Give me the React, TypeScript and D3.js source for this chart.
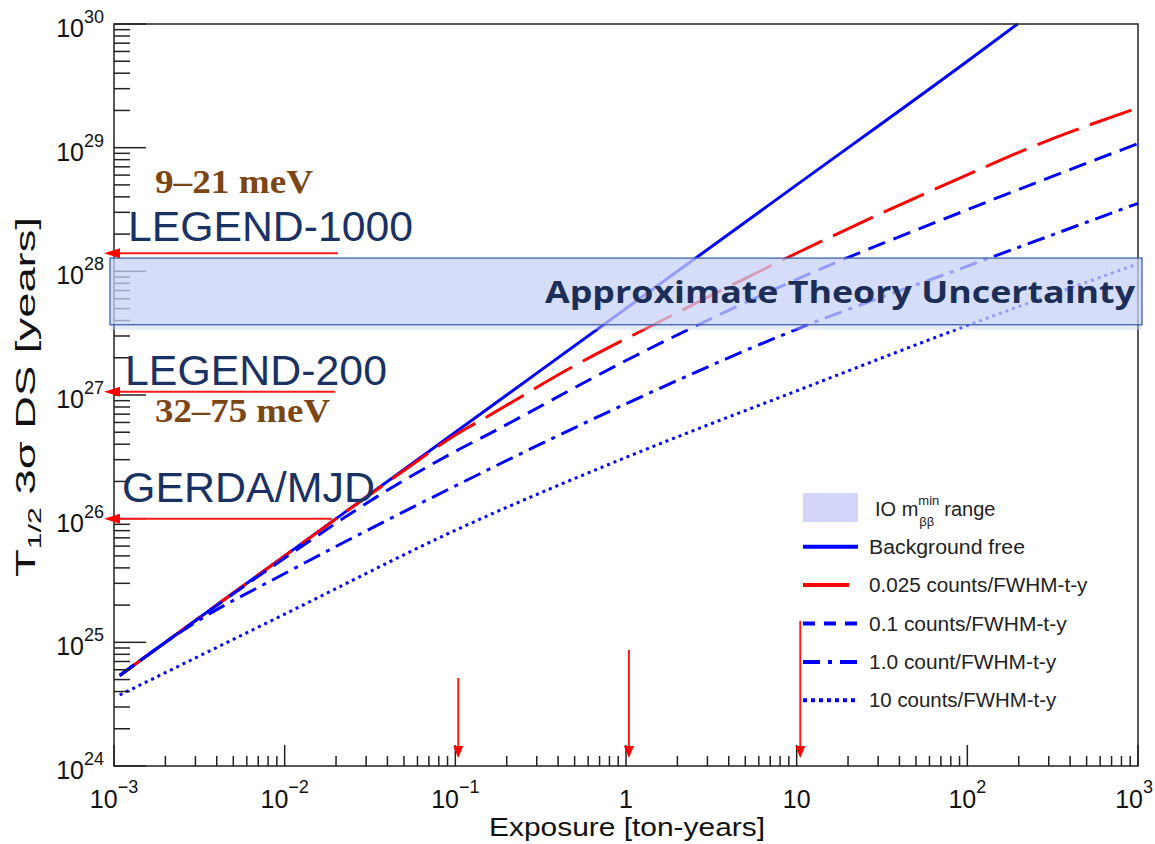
import React from "react";
import * as d3 from "d3";

// Exposure in ton-years, 3σ discovery half-life in years
const exposureBgFree = [0.00108, 0.01, 0.1, 1, 10, 100, 197];
const halfLifeBgFree = [5.4e24, 5.0e25, 5.0e26, 5.0e27, 5.0e28, 5.0e29, 1.0e30];

const exposureB0025 = [0.00108, 0.01, 0.05, 0.1, 0.16, 0.49, 1.45, 10.4, 99, 267, 1000];
const halfLifeB0025 = [5.4e24, 5.0e25, 2.45e26, 4.75e26, 6.9e26, 1.7e27, 3.7e27, 1.44e28, 6.0e28, 1.08e29, 2.1e29];

const exposureB01 = [0.00108, 0.01, 0.0346, 0.1, 0.16, 1, 10, 100, 1000];
const halfLifeB01 = [5.4e24, 4.8e25, 1.5e26, 3.5e26, 4.9e26, 1.9e27, 8.6e27, 3.15e28, 1.08e29];

const exposureB1 = [0.00108, 0.003, 0.01, 0.1, 1, 10, 100, 1000];
const halfLifeB1 = [5.4e24, 1.45e25, 3.6e25, 1.84e26, 8.5e26, 3.4e27, 1.1e28, 3.55e28];

const exposureB10 = [0.00108, 0.01, 0.1, 1, 10, 100, 1000];
const halfLifeB10 = [3.75e24, 1.69e25, 8.05e25, 3.13e26, 1.08e27, 3.65e27, 1.15e28];

// IO minimum m_bb range band
const theoryBand = [3.7e27, 1.28e28];

// Experiment sensitivity markers
const experimentNames = ["LEGEND-1000", "LEGEND-200", "GERDA/MJD"];
const experimentHalfLife = [1.4e28, 1.06e27, 1.0e26];
const experimentArrowFrom = [0.0205, 0.0197, 0.0189];
const massRanges = ["9–21 meV", "32–75 meV"];

// Exposure markers on the x axis
const exposureMarkers = [0.104, 1.04, 10.5];
const exposureMarkerTop = [5.15e24, 8.7e24, 1.49e25];

const xTickExponents = [-3, -2, -1, 0, 1, 2, 3];
const yTickExponents = [24, 25, 26, 27, 28, 29, 30];

const legendLabels = [
  "Background free",
  "0.025 counts/FWHM-t-y",
  "0.1 counts/FWHM-t-y",
  "1.0 count/FWHM-t-y",
  "10 counts/FWHM-t-y",
];

const SANS = "'Liberation Sans', Arial, Helvetica, sans-serif";

export default function App() {
  const x = d3.scaleLog().domain([1e-3, 1e3]).range([114, 1138]);
  const y = d3.scaleLog().domain([1e24, 1e30]).range([766, 24]);

  const line = (xs: number[], ys: number[]) =>
    d3
      .line<number>()
      .x((_, i) => x(xs[i]))
      .y((_, i) => y(ys[i]))
      .curve(d3.curveMonotoneX)(ys) as string;

  const series = [
    { d: line(exposureBgFree, halfLifeBgFree), color: "#0000ff", dash: "none", w: 3 },
    { d: line(exposureB0025, halfLifeB0025), color: "#ff0000", dash: "44 12", w: 3 },
    { d: line(exposureB01, halfLifeB01), color: "#0000ff", dash: "18 9", w: 3 },
    { d: line(exposureB1, halfLifeB1), color: "#0000ff", dash: "18 7 4 7", w: 3 },
    { d: line(exposureB10, halfLifeB10), color: "#0000ff", dash: "3 4", w: 3 },
  ];

  const legendStyles = [
    { color: "#0000ff", dash: "none", len: 55 },
    { color: "#ff0000", dash: "none", len: 46 },
    { color: "#0000ff", dash: "12 9", len: 55 },
    { color: "#0000ff", dash: "17 8 4 8", len: 55 },
    { color: "#0000ff", dash: "4 4", len: 55 },
  ];

  // minor ticks
  const xMinor: number[] = [];
  const yMinor: number[] = [];
  for (let e = -3; e < 3; e++) for (let m = 2; m <= 9; m++) xMinor.push(m * Math.pow(10, e));
  for (let e = 24; e < 30; e++) for (let m = 2; m <= 9; m++) yMinor.push(m * Math.pow(10, e));

  const [x0, x1] = x.range();
  const [yb, yt] = y.range();

  const bandTop = y(theoryBand[1]);
  const bandBot = y(theoryBand[0]);

  return (
    <svg
      width={1155}
      height={844}
      style={{ position: "absolute", left: 0, top: 0, background: "#fff" }}
      fontFamily={SANS}
    >
      {/* curves */}
      <g fill="none">
        {series.map((s, i) => (
          <path key={i} d={s.d} stroke={s.color} strokeWidth={s.w} strokeDasharray={s.dash} />
        ))}
      </g>

      {/* axes ticks */}
      <g stroke="#222" strokeWidth={1.5}>
        {xTickExponents.map((e) => (
          <line key={"xM" + e} x1={x(Math.pow(10, e))} x2={x(Math.pow(10, e))} y1={yb} y2={yb - 21} />
        ))}
        {xMinor.map((v, i) => (
          <line key={"xm" + i} x1={x(v)} x2={x(v)} y1={yb} y2={yb - 10} />
        ))}
        {yTickExponents.map((e) => (
          <line key={"yM" + e} x1={x0} x2={x0 + 32} y1={y(Math.pow(10, e))} y2={y(Math.pow(10, e))} />
        ))}
        {yMinor.map((v, i) => (
          <line key={"ym" + i} x1={x0} x2={x0 + 16} y1={y(v)} y2={y(v)} />
        ))}
        <rect x={x0} y={yt} width={x1 - x0} height={yb - yt} fill="none" />
      </g>

      {/* tick labels */}
      <g fill="#111" fontSize={25}>
        {yTickExponents.map((e) => (
          <text key={"yl" + e} x={104} y={y(Math.pow(10, e)) + 13} textAnchor="end">
            10<tspan dy={-14} fontSize={18}>{e}</tspan>
          </text>
        ))}
        {xTickExponents.map((e) => (
          <text
            key={"xl" + e}
            x={e === 3 ? 1153 : x(Math.pow(10, e))}
            y={808}
            textAnchor={e === 3 ? "end" : "middle"}
          >
            {e === 0 ? "1" : "10"}
            {e !== 0 && e !== 1 ? (
              <tspan dy={-15} fontSize={18}>
                {e < 0 ? "\u2212" + Math.abs(e) : String(e)}
              </tspan>
            ) : null}
          </text>
        ))}
      </g>

      {/* axis titles */}
      <text x={627} y={836} textAnchor="middle" fontSize={25} fill="#111" textLength={276} lengthAdjust="spacingAndGlyphs">
        Exposure [ton-years]
      </text>
      <text
        transform="translate(35,397) rotate(-90)"
        textAnchor="middle"
        fontSize={27}
        fill="#111"
        textLength={360}
        lengthAdjust="spacingAndGlyphs"
      >
        T<tspan dy={6} fontSize={18}>1/2</tspan>
        <tspan dy={-6}> 3σ DS [years]</tspan>
      </text>

      {/* theory uncertainty band */}
      <rect x={x0 - 4} y={bandBot} width={x1 - x0 + 8} height={5} fill="#c8d2f5" opacity={0.45} />
      <rect
        x={x0 - 4}
        y={bandTop}
        width={x1 - x0 + 8}
        height={bandBot - bandTop}
        fill="#c8d2f5"
        fillOpacity={0.75}
        stroke="#3d63b0"
        strokeWidth={1.3}
      />
      <text
        x={545}
        y={303}
        fontFamily="'Open Sans', Lato, sans-serif"
        fontWeight={700}
        fontSize={31}
        fill="#1c2e57"
        textLength={590}
        lengthAdjust="spacingAndGlyphs"
      >
        Approximate Theory Uncertainty
      </text>

      {/* experiment sensitivity arrows */}
      <g>
        {experimentHalfLife.map((t, i) => {
          const yy = y(t);
          const xs = x(experimentArrowFrom[i]);
          return (
            <g key={"ea" + i}>
              <line x1={xs} x2={118} y1={yy} y2={yy} stroke="#ff1a1a" strokeWidth={2} />
              <path d={`M104,${yy} L120,${yy - 5} L120,${yy + 5} Z`} fill="#ff0000" />
            </g>
          );
        })}
        {exposureMarkers.map((e, i) => {
          const xx = x(e);
          const ytop = y(exposureMarkerTop[i]);
          return (
            <g key={"xa" + i}>
              <line x1={xx} x2={xx} y1={ytop} y2={748} stroke="#ff1a1a" strokeWidth={2} />
              <path d={`M${xx},758 L${xx - 5},746 L${xx + 5},746 Z`} fill="#ff0000" />
            </g>
          );
        })}
      </g>

      {/* experiment labels */}
      <g fill="#1a3263" fontSize={43}>
        <text x={128} y={241} textLength={285} lengthAdjust="spacingAndGlyphs">{experimentNames[0]}</text>
        <text x={125} y={385} textLength={262} lengthAdjust="spacingAndGlyphs">{experimentNames[1]}</text>
        <text x={122} y={502} textLength={253} lengthAdjust="spacingAndGlyphs">{experimentNames[2]}</text>
      </g>
      <g fill="#7b4614" fontFamily="'Liberation Serif', 'DejaVu Serif', serif" fontWeight={700} fontSize={33}>
        <text x={155} y={193} textLength={158} lengthAdjust="spacingAndGlyphs">{massRanges[0]}</text>
        <text x={155} y={422} textLength={175} lengthAdjust="spacingAndGlyphs">{massRanges[1]}</text>
      </g>

      {/* legend */}
      <g fontSize={20} fill="#222">
        <rect x={803} y={493} width={55} height={29} fill="#d3d6fa" />
        <text x={875} y={516}>
          IO m
          <tspan fontSize={13} dy={-11}>min</tspan>
          <tspan fontSize={13} dx={-20} dy={21}>ββ</tspan>
          <tspan dx={10} dy={-10}>range</tspan>
        </text>
        {legendLabels.map((lab, i) => {
          const yy = 546.7 + i * 38.4;
          const st = legendStyles[i];
          return (
            <g key={"lg" + i}>
              <line
                x1={803}
                x2={803 + st.len}
                y1={yy}
                y2={yy}
                stroke={st.color}
                strokeWidth={4}
                strokeDasharray={st.dash}
              />
              <text x={869} y={yy + 7} textLength={lab.length * 10.4} lengthAdjust="spacingAndGlyphs">
                {lab}
              </text>
            </g>
          );
        })}
      </g>
    </svg>
  );
}
